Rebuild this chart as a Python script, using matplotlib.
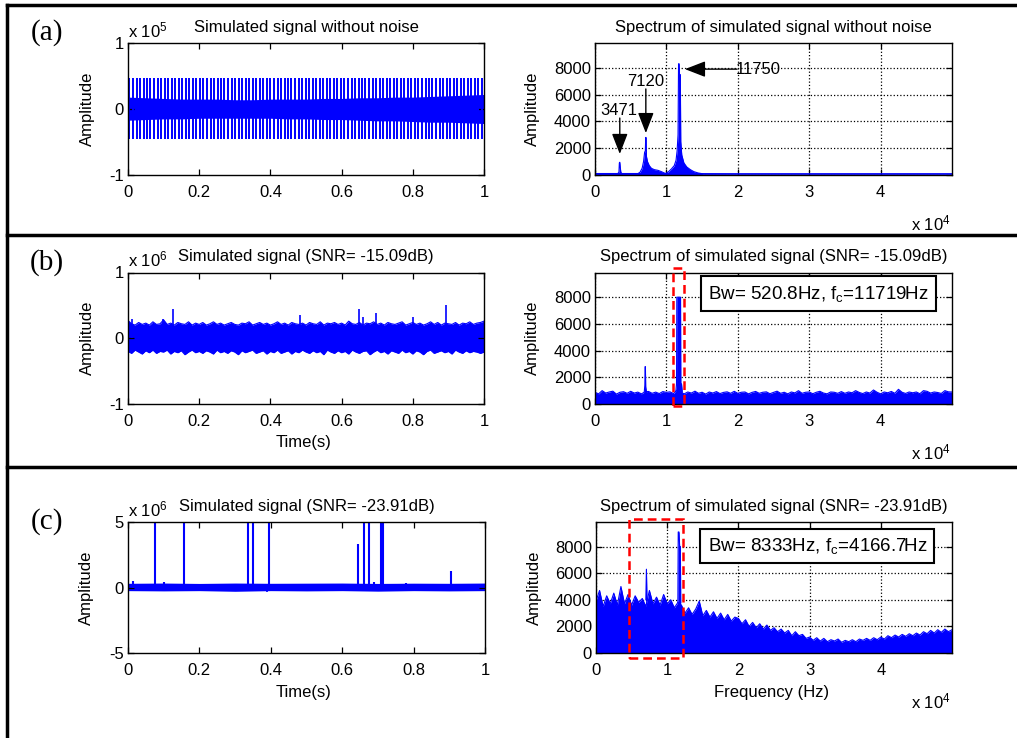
import numpy as np
import matplotlib
matplotlib.use("Agg")
import matplotlib.pyplot as plt
from matplotlib.patches import Rectangle
from matplotlib.lines import Line2D

plt.rcParams["font.family"] = ["Liberation Sans", "DejaVu Sans"]
plt.rcParams["mathtext.fontset"] = "custom"
plt.rcParams["mathtext.rm"] = "Liberation Sans"
plt.rcParams["mathtext.it"] = "Liberation Sans:italic"
plt.rcParams["mathtext.bf"] = "Liberation Sans:bold"

BLUE = "#0000ff"
RED = "#ff0000"

# ---------------- (a) simulated signal without noise (x 1e5) ----------------
impulse_times_a = [
    0.004, 0.014, 0.024, 0.034, 0.044, 0.054, 0.063, 0.073, 0.083, 0.093,
    0.103, 0.113, 0.123, 0.133, 0.143, 0.153, 0.162, 0.172, 0.182, 0.192,
    0.202, 0.212, 0.222, 0.232, 0.242, 0.252, 0.261, 0.271, 0.281, 0.291,
    0.301, 0.311, 0.321, 0.331, 0.341, 0.351, 0.360, 0.370, 0.380, 0.390,
    0.400, 0.410, 0.420, 0.430, 0.440, 0.450, 0.459, 0.469, 0.479, 0.489,
    0.499, 0.509, 0.519, 0.529, 0.539, 0.549, 0.558, 0.568, 0.578, 0.588,
    0.598, 0.608, 0.618, 0.628, 0.638, 0.648, 0.657, 0.667, 0.677, 0.687,
    0.697, 0.707, 0.717, 0.727, 0.737, 0.747, 0.756, 0.766, 0.776, 0.786,
    0.796, 0.806, 0.816, 0.826, 0.836, 0.846, 0.855, 0.865, 0.875, 0.885,
    0.895, 0.905, 0.915, 0.925, 0.935, 0.945, 0.954, 0.964, 0.974, 0.984,
    0.994,
]
impulse_top_a = 0.47
impulse_bottom_a = -0.46
band_t_a = [0.0, 0.05, 0.1, 0.15, 0.2, 0.25, 0.3, 0.35, 0.4, 0.45, 0.5,
            0.55, 0.6, 0.65, 0.7, 0.75, 0.8, 0.85, 0.9, 0.95, 1.0]
band_hi_a = [0.18, 0.17, 0.16, 0.15, 0.15, 0.15, 0.14, 0.14, 0.15, 0.15, 0.15,
             0.16, 0.16, 0.17, 0.17, 0.18, 0.18, 0.19, 0.20, 0.21, 0.22]
band_lo_a = [-0.17, -0.16, -0.15, -0.15, -0.14, -0.14, -0.14, -0.14, -0.14, -0.15, -0.15,
             -0.16, -0.16, -0.17, -0.18, -0.18, -0.19, -0.20, -0.20, -0.21, -0.22]

# spectrum (a): flat floor plus three resonance peaks
floor_freq_a = [0, 10000, 20000, 30000, 40000, 50000]
floor_amp_a = [110, 110, 100, 100, 100, 100]
peak_freq_a = [3471, 7120, 11750]
peak_offsets_a = [
    [-300, -120, -60, 0, 60, 150, 300],
    [-1120, -820, -520, -320, -170, -70, -20, 30, 80, 230, 480, 780, 1180, 1680, 2180, 2580, 2880],
    [-1850, -1450, -1050, -650, -400, -250, -120, -50, 30, 80, 200, 260, 400, 700, 1100, 1600, 2100, 2700, 3250],
]
peak_amps_a = [
    [100, 200, 900, 950, 600, 200, 100],
    [100, 200, 500, 1000, 1700, 1800, 2800, 2800, 1400, 1000, 700, 500, 400, 350, 250, 150, 100],
    [100, 250, 450, 700, 1100, 1800, 3000, 8300, 8300, 7500, 7500, 2500, 1500, 900, 600, 400, 250, 150, 100],
]

# ---------------- (b) SNR = -15.09 dB (x 1e6) ----------------
band_t_b = list(np.linspace(0, 1, 101))
band_hi_b = [
    0.27, 0.22, 0.20, 0.24, 0.21, 0.23, 0.20, 0.25, 0.21, 0.22,
    0.28, 0.21, 0.23, 0.20, 0.24, 0.22, 0.21, 0.25, 0.20, 0.23,
    0.21, 0.24, 0.20, 0.22, 0.25, 0.21, 0.23, 0.20, 0.22, 0.24,
    0.21, 0.20, 0.23, 0.22, 0.25, 0.20, 0.22, 0.24, 0.21, 0.23,
    0.20, 0.22, 0.25, 0.21, 0.23, 0.20, 0.24, 0.22, 0.21, 0.23,
    0.20, 0.24, 0.22, 0.21, 0.25, 0.20, 0.23, 0.22, 0.24, 0.21,
    0.23, 0.20, 0.26, 0.22, 0.21, 0.24, 0.20, 0.23, 0.22, 0.25,
    0.21, 0.23, 0.20, 0.24, 0.22, 0.21, 0.23, 0.25, 0.20, 0.22,
    0.24, 0.21, 0.23, 0.20, 0.22, 0.25, 0.21, 0.24, 0.20, 0.23,
    0.22, 0.21, 0.24, 0.20, 0.23, 0.22, 0.25, 0.21, 0.23, 0.24,
    0.26,
]
band_lo_b = [
    -0.20, -0.23, -0.18, -0.21, -0.24, -0.19, -0.22, -0.18, -0.23, -0.20,
    -0.21, -0.18, -0.24, -0.20, -0.22, -0.19, -0.25, -0.21, -0.18, -0.22,
    -0.20, -0.23, -0.19, -0.21, -0.24, -0.18, -0.22, -0.20, -0.23, -0.19,
    -0.21, -0.25, -0.19, -0.22, -0.20, -0.18, -0.23, -0.21, -0.19, -0.24,
    -0.20, -0.22, -0.18, -0.23, -0.21, -0.19, -0.24, -0.20, -0.22, -0.18,
    -0.21, -0.23, -0.19, -0.22, -0.20, -0.25, -0.18, -0.21, -0.23, -0.19,
    -0.22, -0.20, -0.24, -0.18, -0.21, -0.23, -0.20, -0.19, -0.25, -0.21,
    -0.18, -0.22, -0.20, -0.24, -0.19, -0.21, -0.23, -0.18, -0.22, -0.20,
    -0.24, -0.19, -0.21, -0.25, -0.20, -0.18, -0.23, -0.21, -0.19, -0.22,
    -0.20, -0.24, -0.18, -0.21, -0.23, -0.19, -0.22, -0.20, -0.21, -0.23,
    -0.21,
]
spike_t_b = [0.012, 0.097, 0.127, 0.483, 0.650, 0.660, 0.696, 0.800, 0.893]
spike_v_b = [0.29, 0.30, 0.44, 0.35, 0.44, 0.33, 0.38, 0.32, 0.50]

spec_freq = list(np.linspace(0, 50000, 101))
floor_amp_b = [
    880, 760, 1000, 820, 900, 960, 740, 880, 920, 800,
    950, 820, 890, 760, 910, 940, 800, 890, 780, 930,
    870, 910, 780, 1050, 880, 760, 900, 820, 960, 800,
    880, 740, 900, 820, 930, 780, 870, 910, 800, 950,
    800, 880, 900, 760, 870, 940, 800, 880, 910, 770,
    870, 960, 800, 880, 760, 900, 830, 1000, 800, 880,
    900, 770, 880, 950, 820, 760, 900, 880, 800, 930,
    800, 900, 840, 1000, 870, 780, 900, 820, 1050, 880,
    760, 900, 840, 940, 800, 1100, 880, 790, 900, 840,
    900, 770, 1000, 950, 820, 900, 860, 790, 1000, 910,
    900,
]
peak_freq_b = [7050, 11719]
peak_offsets_b = [
    [-150, -70, -30, 10, 50, 150],
    [-400, -300, -260, 260, 300, 400, 500],
]
peak_amps_b = [
    [900, 1400, 2800, 2800, 1300, 900],
    [900, 1500, 8000, 8000, 1500, 1500, 900],
]
bw_b, fc_b = 520.8, 11719
box_b = (10919, 12519)

# ---------------- (c) SNR = -23.91 dB (x 1e6) ----------------
band_t_c = [0.0, 0.1, 0.2, 0.3, 0.4, 0.5, 0.6, 0.7, 0.8, 0.9, 1.0]
band_hi_c = [0.32, 0.34, 0.31, 0.34, 0.32, 0.33, 0.34, 0.31, 0.33, 0.32, 0.34]
band_lo_c = [-0.24, -0.26, -0.24, -0.29, -0.24, -0.26, -0.24, -0.28, -0.24, -0.26, -0.24]
spike_t_c = [0.075, 0.157, 0.336, 0.350, 0.395, 0.643, 0.661, 0.676, 0.710, 0.713,
             0.906, 0.014, 0.100, 0.690, 0.780]
spike_v_c = [6.0, 6.0, 6.0, 6.0, 6.0, 3.3, 6.0, 6.0, 6.0, 6.0,
             1.23, 0.47, 0.42, 0.40, 0.35]

floor_amp_c = [
    3900, 4700, 3500, 4300, 3700, 4500, 3600, 5000, 3700, 4400,
    3600, 4300, 3800, 4100, 3500, 4700, 3700, 4200, 3600, 4400,
    3700, 4000, 3400, 3800, 3600, 3000, 3400, 2900, 3300, 3900,
    2800, 3200, 2700, 3100, 2600, 3000, 2500, 2900, 2400, 2700,
    2600, 2200, 2500, 2000, 2300, 1900, 2200, 1800, 2100, 1700,
    1900, 1600, 1800, 1500, 1700, 1300, 1600, 1300, 1400, 1100,
    1200, 950, 1150, 900, 1100, 850, 1000, 900, 1050, 800,
    950, 850, 1000, 850, 1050, 950, 1100, 950, 1150, 1000,
    1200, 1050, 1300, 1150, 1350, 1200, 1400, 1250, 1450, 1300,
    1500, 1350, 1600, 1450, 1700, 1500, 1750, 1550, 1800, 1600,
    1750,
]
peak_freq_c = [7080, 11550]
peak_offsets_c = [
    [-80, 0, 80],
    [-50, 0, 100, 200, 300, 350],
]
peak_amps_c = [
    [4000, 6300, 4000],
    [3800, 9100, 9100, 8000, 8000, 3800],
]
bw_c, fc_c = 8333, 4166.7
box_c = (4630, 12170)

# ---------------------------------------------------------------------------
W, H = 1017, 738
fig = plt.figure(figsize=(W / 100, H / 100), dpi=100)


def fx(x):
    return x / W


def fy(y):
    return 1 - y / H


def make_axes(x0, x1, y0, y1):
    return fig.add_axes([fx(x0), fy(y1), (x1 - x0) / W, (y1 - y0) / H])


FS = 12


def style_common(ax):
    for s in ax.spines.values():
        s.set_linewidth(1.0)
        s.set_color("black")
    ax.tick_params(direction="in", top=True, right=True, length=4, width=0.9,
                   labelsize=FS, colors="black")
    ax.tick_params(axis="x", pad=7)
    ax.tick_params(axis="y", pad=3)


def style_time(ax, lim, exp, title):
    style_common(ax)
    ax.set_xlim(0, 1)
    ax.set_ylim(-lim, lim)
    ax.set_xticks([0, 0.2, 0.4, 0.6, 0.8, 1.0])
    ax.set_xticklabels(["0", "0.2", "0.4", "0.6", "0.8", "1"])
    ax.set_yticks([-lim, 0, lim])
    ax.set_yticklabels(["-%d" % lim, "0", "%d" % lim])
    ax.text(0.0, 1.045, r"x 10$^{%d}$" % exp, transform=ax.transAxes,
            ha="left", va="baseline", fontsize=FS)
    ax.set_title(title, fontsize=FS, pad=8)
    ax.text(-0.115, 0.5, "Amplitude", rotation=90, transform=ax.transAxes,
            ha="center", va="center", fontsize=FS)


def style_spec(ax, title):
    style_common(ax)
    ax.set_xlim(0, 50000)
    ax.set_ylim(0, 9850)
    ax.set_xticks([0, 10000, 20000, 30000, 40000])
    ax.set_xticklabels(["0", "1", "2", "3", "4"])
    ax.set_yticks([0, 2000, 4000, 6000, 8000])
    ax.set_yticklabels(["0", "2000", "4000", "6000", "8000"])
    ax.set_axisbelow(True)
    ax.grid(True, ls=":", color="black", lw=0.9)
    ax.set_title(title, fontsize=FS, pad=8)
    ax.text(-0.174, 0.5, "Amplitude", rotation=90, transform=ax.transAxes,
            ha="center", va="center", fontsize=FS)
    ax.text(0.995, -0.42, r"x 10$^{4}$", transform=ax.transAxes,
            ha="right", va="baseline", fontsize=FS)


def draw_floor(ax, freq, amp):
    ax.fill_between(freq, 0, amp, color=BLUE, lw=0)
    ax.plot(freq, amp, color=BLUE, lw=0.8)


def draw_peaks(ax, centers, offsets, amps):
    for c, off, a in zip(centers, offsets, amps):
        f = c + np.asarray(off, dtype=float)
        ax.fill_between(f, 0, a, color=BLUE, lw=0)
        ax.plot(f, a, color=BLUE, lw=0.8)


def red_box(ax, x0, x1, y0, y1):
    r = Rectangle((x0, y0), x1 - x0, y1 - y0, fill=False, ec=RED, lw=1.8,
                  ls=(0, (3.5, 2)), clip_on=False, zorder=5)
    ax.add_patch(r)


def info_box(ax, x, y, bw, fc):
    ax.text(x, y, r"Bw= %gHz, f$_{\mathrm{c}}$=%gHz" % (bw, fc), transform=ax.transAxes,
            ha="center", va="center", fontsize=13.5, zorder=6,
            bbox=dict(boxstyle="square,pad=0.38", fc="white", ec="black", lw=1.5))


# ---- row (a)
ax = make_axes(128, 484, 43, 175)
ax.fill_between(band_t_a, band_lo_a, band_hi_a, color=BLUE, lw=0)
ax.vlines(impulse_times_a, impulse_bottom_a, impulse_top_a, color=BLUE, lw=1.4)
style_time(ax, 1, 5, "Simulated signal without noise")

ax = make_axes(595, 952, 43, 175)
draw_floor(ax, floor_freq_a, floor_amp_a)
draw_peaks(ax, peak_freq_a, peak_offsets_a, peak_amps_a)
style_spec(ax, "Spectrum of simulated signal without noise")
arrow_kw = dict(arrowstyle="-|>,head_length=0.9,head_width=0.35", color="black",
                lw=1.0, mutation_scale=14, shrinkA=0, shrinkB=0)
ax.annotate("", xy=(peak_freq_a[0], 1570), xytext=(peak_freq_a[0], 4250), arrowprops=arrow_kw)
ax.text(peak_freq_a[0] - 150, 4850, "%d" % peak_freq_a[0], ha="center", va="center", fontsize=FS)
ax.annotate("", xy=(peak_freq_a[1], 3130), xytext=(peak_freq_a[1], 6420), arrowprops=arrow_kw)
ax.text(peak_freq_a[1], 6960, "%d" % peak_freq_a[1], ha="center", va="center", fontsize=FS)
ax.annotate("", xy=(12600, 7900), xytext=(19900, 7900), arrowprops=arrow_kw)
ax.text(19700, 7850, "%d" % peak_freq_a[2], ha="left", va="center", fontsize=FS)

# ---- row (b)
ax = make_axes(128, 484, 272.5, 404)
ax.fill_between(band_t_b, band_lo_b, band_hi_b, color=BLUE, lw=0)
ax.plot(band_t_b, band_hi_b, color=BLUE, lw=0.8)
ax.plot(band_t_b, band_lo_b, color=BLUE, lw=0.8)
ax.vlines(spike_t_b, 0, spike_v_b, color=BLUE, lw=1.2)
style_time(ax, 1, 6, "Simulated signal (SNR= -15.09dB)")

ax = make_axes(595, 952, 272.5, 404)
draw_floor(ax, spec_freq, floor_amp_b)
draw_peaks(ax, peak_freq_b, peak_offsets_b, peak_amps_b)
style_spec(ax, "Spectrum of simulated signal (SNR= -15.09dB)")
red_box(ax, box_b[0], box_b[1], -150, 10200)
info_box(ax, 0.627, 0.840, bw_b, fc_b)

# ---- row (c)
ax = make_axes(128, 485, 522, 653)
ax.fill_between(band_t_c, band_lo_c, band_hi_c, color=BLUE, lw=0)
ax.vlines(spike_t_c, 0, spike_v_c, color=BLUE, lw=1.5)
ax.vlines([0.39], -0.35, 0, color=BLUE, lw=1.2)
style_time(ax, 5, 6, "Simulated signal (SNR= -23.91dB)")

ax = make_axes(596, 952, 522, 653)
draw_floor(ax, spec_freq, floor_amp_c)
draw_peaks(ax, peak_freq_c, peak_offsets_c, peak_amps_c)
style_spec(ax, "Spectrum of simulated signal (SNR= -23.91dB)")
red_box(ax, box_c[0], box_c[1], -350, 10070)
info_box(ax, 0.622, 0.814, bw_c, fc_c)

# x-axis labels on the bottom two rows
fig.text(fx(304), fy(442), "Time(s)", ha="center", va="center", fontsize=FS)
fig.text(fx(304), fy(692), "Time(s)", ha="center", va="center", fontsize=FS)
fig.text(fx(772), fy(692), "Frequency (Hz)", ha="center", va="center", fontsize=FS)

# panel letters
for lab, y in (("(a)", 33), ("(b)", 263), ("(c)", 522)):
    fig.text(fx(47), fy(y), lab, ha="center", va="center", fontsize=21,
             family="Liberation Serif")

# table rules separating the three rows
for y in (5, 235, 467):
    fig.add_artist(Line2D([fx(7), 1.0], [fy(y), fy(y)], color="black", lw=2.5))
fig.add_artist(Line2D([fx(7), fx(7)], [fy(5), 0.0], color="black", lw=2.5))

fig.savefig("out.png", dpi=100)
